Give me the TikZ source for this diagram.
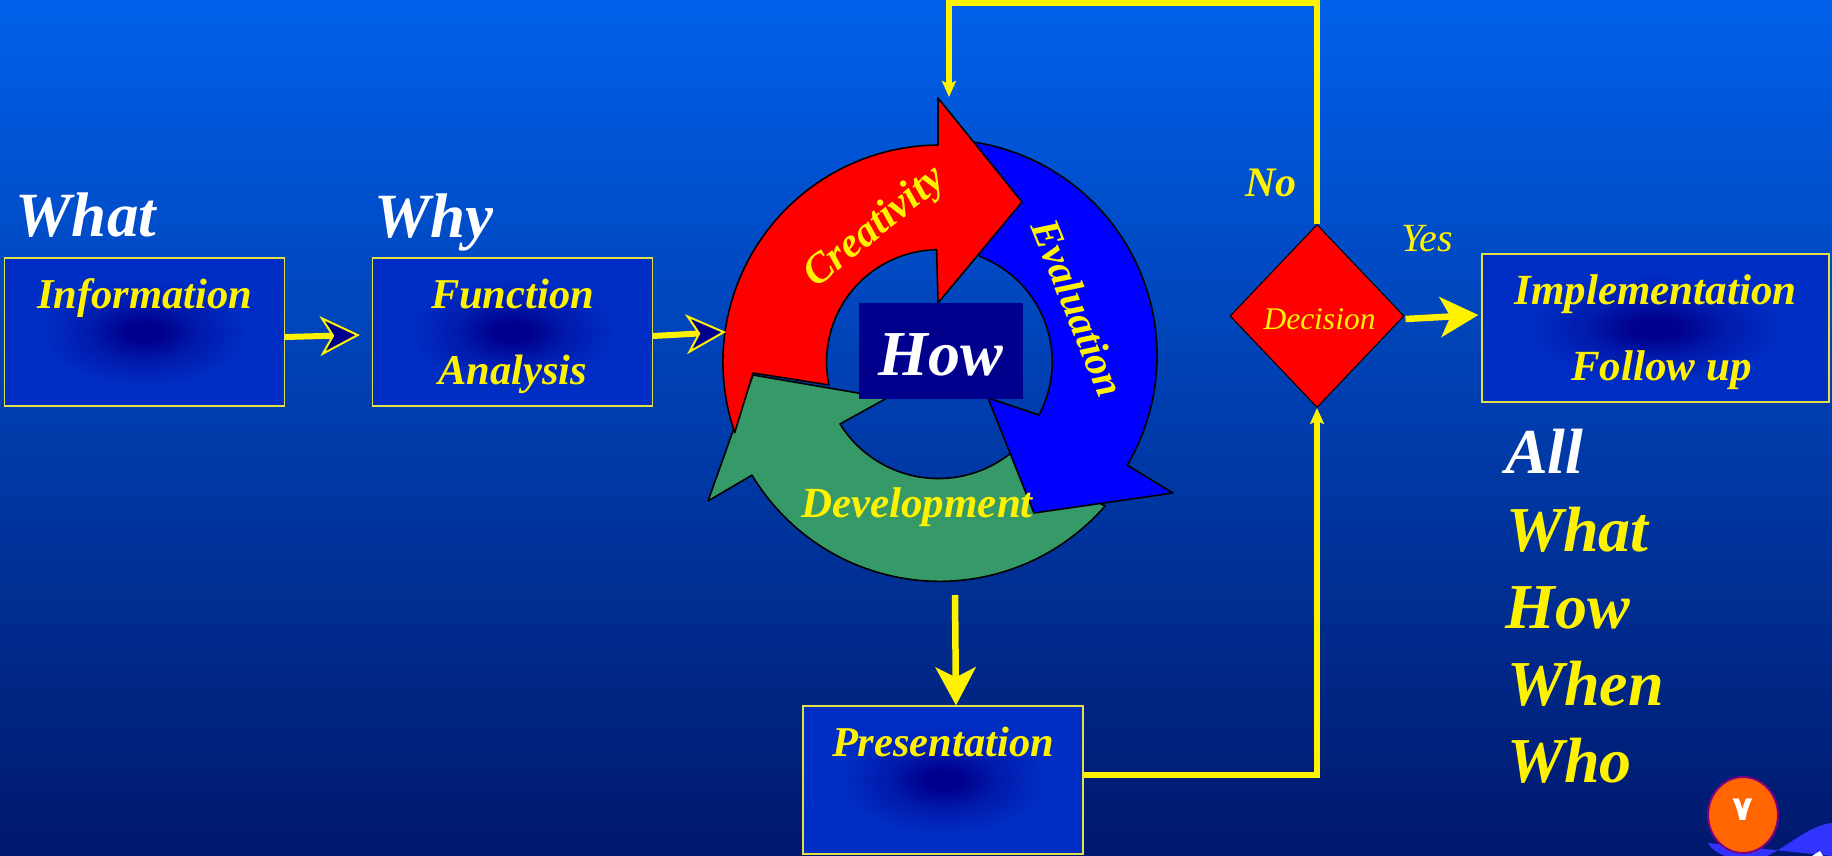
\documentclass[tikz,border=0pt]{standalone}
\usepackage{fontspec}
\setmainfont{Liberation Serif}
\newfontfamily\arabicfont[Script=Arabic]{DejaVu Sans}
\TeXXeTstate=1
\usetikzlibrary{arrows.meta,shapes.geometric}
\definecolor{skytop}{RGB}{0,96,234}
\definecolor{skybottom}{RGB}{0,24,108}
\definecolor{boxedge}{RGB}{225,225,70}
\definecolor{boxblue}{RGB}{0,45,195}
\definecolor{boxdark}{RGB}{0,0,140}
\definecolor{ringgreen}{RGB}{54,153,104}
\definecolor{wavecolor}{RGB}{51,51,255}
\definecolor{badgeorange}{RGB}{255,102,0}
\definecolor{badgeedge}{RGB}{128,0,128}
\pgfdeclareradialshading{boxglow}{\pgfpoint{0bp}{0bp}}{%
  color(0bp)=(boxdark); color(3bp)=(boxdark); color(10bp)=(boxblue!60!boxdark); color(18bp)=(boxblue); color(50bp)=(boxblue)}
\begin{document}
\begin{tikzpicture}[
  x=1pt, y=-1pt,
  block/.style={rectangle, draw=boxedge, line width=1.2pt, shading=boxglow, minimum width=280pt, minimum height=148pt,
    inner sep=0pt, align=center, text=yellow, text depth=-3pt, font=\bfseries\itshape\fontsize{42.5}{76}\selectfont},
  ringpart/.style={draw=black, line width=1.6pt, line join=round},
  ringword/.style={text=yellow, font=\bfseries\itshape\fontsize{42}{50}\selectfont},
  bigword/.style={text=white, font=\bfseries\itshape\fontsize{63}{70}\selectfont},
  listword/.style={text=yellow, anchor=base west, inner sep=0pt, font=\bfseries\itshape\fontsize{64}{70}\selectfont},
  openarrow/.style={draw=yellow, line width=6pt, -{Stealth[length=40pt, width=40pt, inset=12pt, line width=2pt, fill=boxdark, color=yellow]}},
  solidarrow/.style={draw=yellow, line width=6.5pt, -{Stealth[length=38pt, width=40pt, inset=10pt]}},
  feedline/.style={draw=yellow, line width=5.5pt, line join=miter, -{Stealth[length=16pt, width=14pt, inset=3pt]}},
  node distance=368pt
]
\useasboundingbox (0,0) rectangle (1832,856);
\shade[top color=skytop, bottom color=skybottom] (0,0) rectangle (1832,856);

\fill[wavecolor] (1708,843) .. controls (1712,850) and (1718,853) .. (1725,856) -- (1767,856)
  .. controls (1790,845) and (1810,825) .. (1832,823) -- (1832,856) -- cycle;
\fill[white] (1812,856) -- (1820,851) -- (1823,856) -- cycle;

% ring
\coordinate (ringwest) at (726,332);
\coordinate (ringsouth) at (955,595);
\coordinate (ringtop) at (949,97);
\coordinate (loopcorner) at (949,3);
\path[ringpart, fill=ringgreen] (1105,506) arc[start angle=41, end angle=149, radius=219]
  -- (708,501) -- (753,375) -- (887,398) -- (840,424)
  arc[start angle=148, end angle=52, radius=116] -- cycle;
\path[ringpart, fill=blue] (973,142) arc[start angle=-81.5, end angle=30.5, radius=216]
  -- (1173,493) -- (1034,513) -- (988,398) -- (1039,415)
  arc[start angle=28, end angle=-69, radius=113] -- cycle;
\path[ringpart, fill=red] (938,98) -- (938,145) arc[start angle=-90.5, end angle=-199, radius=217]
  -- (753,373) -- (829,385) arc[start angle=-192, end angle=-91, radius=112]
  -- (938,303) -- (1022,202) -- cycle;

\node[ringword, rotate=39] (creat) at (875,228) {Creativity};
\node[ringword, rotate=-68, font=\bfseries\itshape\fontsize{41}{50}\selectfont] (evalu) at (1078,308) {Evaluation};
\node[ringword, font=\bfseries\itshape\fontsize{43}{50}\selectfont] (devel) at (917,507) {Development};
\node[fill=boxdark, text=white, minimum width=164pt, minimum height=96pt, inner sep=0pt,
  font=\bfseries\itshape\fontsize{64}{70}\selectfont] (how) at (941,351) {\raisebox{-4pt}[\height][\depth]{How}};

% boxes
\node[block] (info) at (144.5,332) {Information\\~};
\node[block, right of=info] (func) {Function\\Analysis};
\node[block] (present) at (943,780) {Presentation\\~};
\node[diamond, draw=black, line width=1pt, fill=red, inner sep=0pt, minimum width=174pt, minimum height=183pt,
  aspect=0.95, text=yellow, font=\itshape\fontsize{31.5}{36}\selectfont] (decide) at (1317,316) {\hspace{5pt}\raisebox{-3pt}[\height][\depth]{Decision}};
\node[block, minimum width=347pt, font=\bfseries\itshape\fontsize{43}{76}\selectfont] (impl) at (1655.5,328) {Implementation\\\hspace{12pt}Follow up};

% labels
\node[bigword] (whatword) at (86,215) {What};
\node[bigword] (whyword) at (434,222) {Why};
\node[text=yellow, font=\bfseries\itshape\fontsize{42}{50}\selectfont] (noword) at (1271,183) {No};
\node[text=yellow, font=\itshape\fontsize{40}{50}\selectfont] (yesword) at (1427,239) {Yes};
\node[listword, text=white] (allword) at (1505,473) {All};
\node[listword] (listwhat) at (1506,551) {What};
\node[listword] (listhow) at (1505,628) {How};
\node[listword] (listwhen) at (1507,705) {When};
\node[listword] (listwho) at (1507,782) {Who};

% badge
\node[ellipse, draw=badgeedge, line width=2pt, fill=badgeorange, text=white, minimum width=70pt, minimum height=76pt,
  inner sep=0pt, font=\fontsize{34}{36}\arabicfont\bfseries] (badge) at (1743,815) {\raisebox{5pt}[\height][\depth]{\beginR ٧\endR}};

% connectors
\draw[openarrow] ([yshift=-5pt]info.east) -- ([xshift=-12pt,yshift=-3pt]func.west);
\draw[openarrow] ([yshift=-4pt]func.east) -- (ringwest);
\draw[solidarrow] ([xshift=1pt,yshift=-3pt]decide.east) -- ([xshift=-3pt,yshift=13pt]impl.west);
\draw[solidarrow] (ringsouth) -- ([xshift=13pt]present.north);
\draw[feedline] ([yshift=5pt]present.east) -| (decide.south);
\draw[feedline] (decide.north) |- (loopcorner) -- (ringtop);
\end{tikzpicture}
\end{document}
